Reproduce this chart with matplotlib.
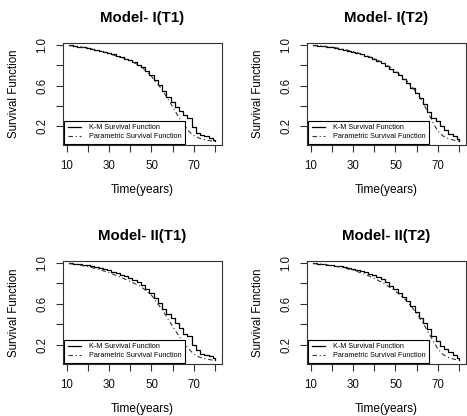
import numpy as np
from matplotlib import pyplot as plt

plt.rcParams['font.family'] = ['Liberation Sans', 'DejaVu Sans']

# K-M 估计的时间点 (阶梯函数, 每个值保持到下一个时间点)
km_time = [11, 13, 15, 17, 19, 21, 23, 25, 27, 29, 31, 33, 35, 37, 39, 41, 43, 45,
           47, 49, 51, 53, 55, 57, 59, 61, 63, 65, 67, 69, 71, 73, 75, 77, 79, 80]

km_m1_t1 = [1.00, 0.99, 0.985, 0.98, 0.975, 0.965, 0.955, 0.945, 0.935, 0.925, 0.91, 0.895,
            0.88, 0.865, 0.85, 0.83, 0.805, 0.78, 0.745, 0.70, 0.655, 0.605, 0.55, 0.49,
            0.44, 0.39, 0.35, 0.31, 0.28, 0.19, 0.13, 0.11, 0.10, 0.08, 0.06, 0.05]
km_m1_t2 = [1.00, 0.995, 0.99, 0.985, 0.98, 0.975, 0.965, 0.955, 0.945, 0.935, 0.925, 0.91,
            0.895, 0.88, 0.86, 0.84, 0.82, 0.79, 0.765, 0.735, 0.70, 0.665, 0.625, 0.58,
            0.53, 0.475, 0.42, 0.34, 0.28, 0.245, 0.20, 0.16, 0.12, 0.10, 0.07, 0.05]
km_m2_t1 = [1.00, 0.995, 0.99, 0.985, 0.98, 0.97, 0.96, 0.95, 0.94, 0.93, 0.915, 0.90,
            0.885, 0.87, 0.855, 0.835, 0.81, 0.785, 0.75, 0.71, 0.66, 0.61, 0.55, 0.50,
            0.46, 0.41, 0.36, 0.31, 0.29, 0.20, 0.15, 0.11, 0.10, 0.09, 0.07, 0.05]
km_m2_t2 = [1.00, 0.995, 0.99, 0.985, 0.98, 0.975, 0.97, 0.96, 0.955, 0.945, 0.935, 0.925,
            0.91, 0.895, 0.88, 0.86, 0.84, 0.81, 0.78, 0.745, 0.71, 0.67, 0.625, 0.575,
            0.52, 0.465, 0.41, 0.35, 0.29, 0.24, 0.19, 0.16, 0.125, 0.10, 0.07, 0.05]

# 参数模型的生存函数
par_time = [11, 15, 20, 25, 30, 35, 40, 45, 50, 55, 60, 62.5, 65, 67.5, 70, 72.5, 75, 77.5, 80]

par_m1_t1 = [0.995, 0.985, 0.97, 0.945, 0.915, 0.88, 0.845, 0.79, 0.69, 0.56, 0.39, 0.30,
             0.22, 0.15, 0.105, 0.08, 0.065, 0.055, 0.045]
par_m1_t2 = [0.995, 0.99, 0.98, 0.96, 0.935, 0.905, 0.865, 0.815, 0.745, 0.655, 0.53, 0.45,
             0.35, 0.24, 0.15, 0.10, 0.075, 0.06, 0.05]
par_m2_t1 = [0.995, 0.985, 0.965, 0.94, 0.905, 0.865, 0.82, 0.77, 0.685, 0.545, 0.38, 0.30,
             0.225, 0.16, 0.11, 0.08, 0.065, 0.055, 0.045]
par_m2_t2 = [0.995, 0.99, 0.975, 0.955, 0.93, 0.895, 0.85, 0.795, 0.725, 0.635, 0.51, 0.43,
             0.34, 0.25, 0.16, 0.105, 0.075, 0.06, 0.05]

titles = ['Model- I(T1)', 'Model- I(T2)', 'Model- II(T1)', 'Model- II(T2)']
km_list = [km_m1_t1, km_m1_t2, km_m2_t1, km_m2_t2]
par_list = [par_m1_t1, par_m1_t2, par_m2_t1, par_m2_t2]

x_ticks = [10, 20, 30, 40, 50, 60, 70, 80]
x_labels = ['10', '', '30', '', '50', '', '70', '']
y_ticks = [0.2, 0.4, 0.6, 0.8, 1.0]
y_labels = ['0.2', '', '0.6', '', '1.0']

W, H = 467, 416
fig = plt.figure(figsize=(W / 100, H / 100), dpi=100)

# 每个子图的像素位置 (左, 上, 右, 下)
boxes = [(63, 43, 222, 145), (307, 43, 466, 145),
         (63, 261, 222, 364), (307, 261, 466, 364)]

for i in range(4):
    l, t, r, b = boxes[i]
    ax = fig.add_axes([l / W, 1 - b / H, (r - l) / W, (b - t) / H])

    ax.step(km_time, km_list[i], where='post', color='black', lw=0.9,
            label='K-M Survival Function')
    ax.plot(par_time, par_list[i], color='#333333', lw=0.8,
            linestyle=(0, (4, 2.5, 1, 2.5)), label='Parametric Survival Function')

    ax.set_xlim(8.2, 83.3)
    ax.set_ylim(0.012, 1.02)
    ax.set_xticks(x_ticks)
    ax.set_xticklabels(x_labels)
    ax.set_yticks(y_ticks)
    ax.set_yticklabels(y_labels, rotation=90, va='center')
    ax.tick_params(direction='out', length=5, width=0.8, color='#333333',
                   labelsize=8.3, labelcolor='#111111')
    ax.tick_params(axis='x', pad=6)
    ax.tick_params(axis='y', pad=5.5)
    for s in ax.spines.values():
        s.set_linewidth(0.8)
        s.set_color('#333333')

    ax.set_title(titles[i], fontsize=10.8, fontweight='bold', pad=15)
    ax.set_xlabel('Time(years)', fontsize=8.6, labelpad=8.5)
    ax.set_ylabel('Survival Function', fontsize=8.3, labelpad=11.5)

    leg = ax.legend(loc='lower left', fontsize=5.2, borderaxespad=0.2,
                    fancybox=False, edgecolor='black', framealpha=1,
                    handlelength=1.8, handletextpad=1.1, labelspacing=0.3,
                    borderpad=0.45)
    leg.get_frame().set_linewidth(0.8)

plt.savefig('out.png', dpi=100)
